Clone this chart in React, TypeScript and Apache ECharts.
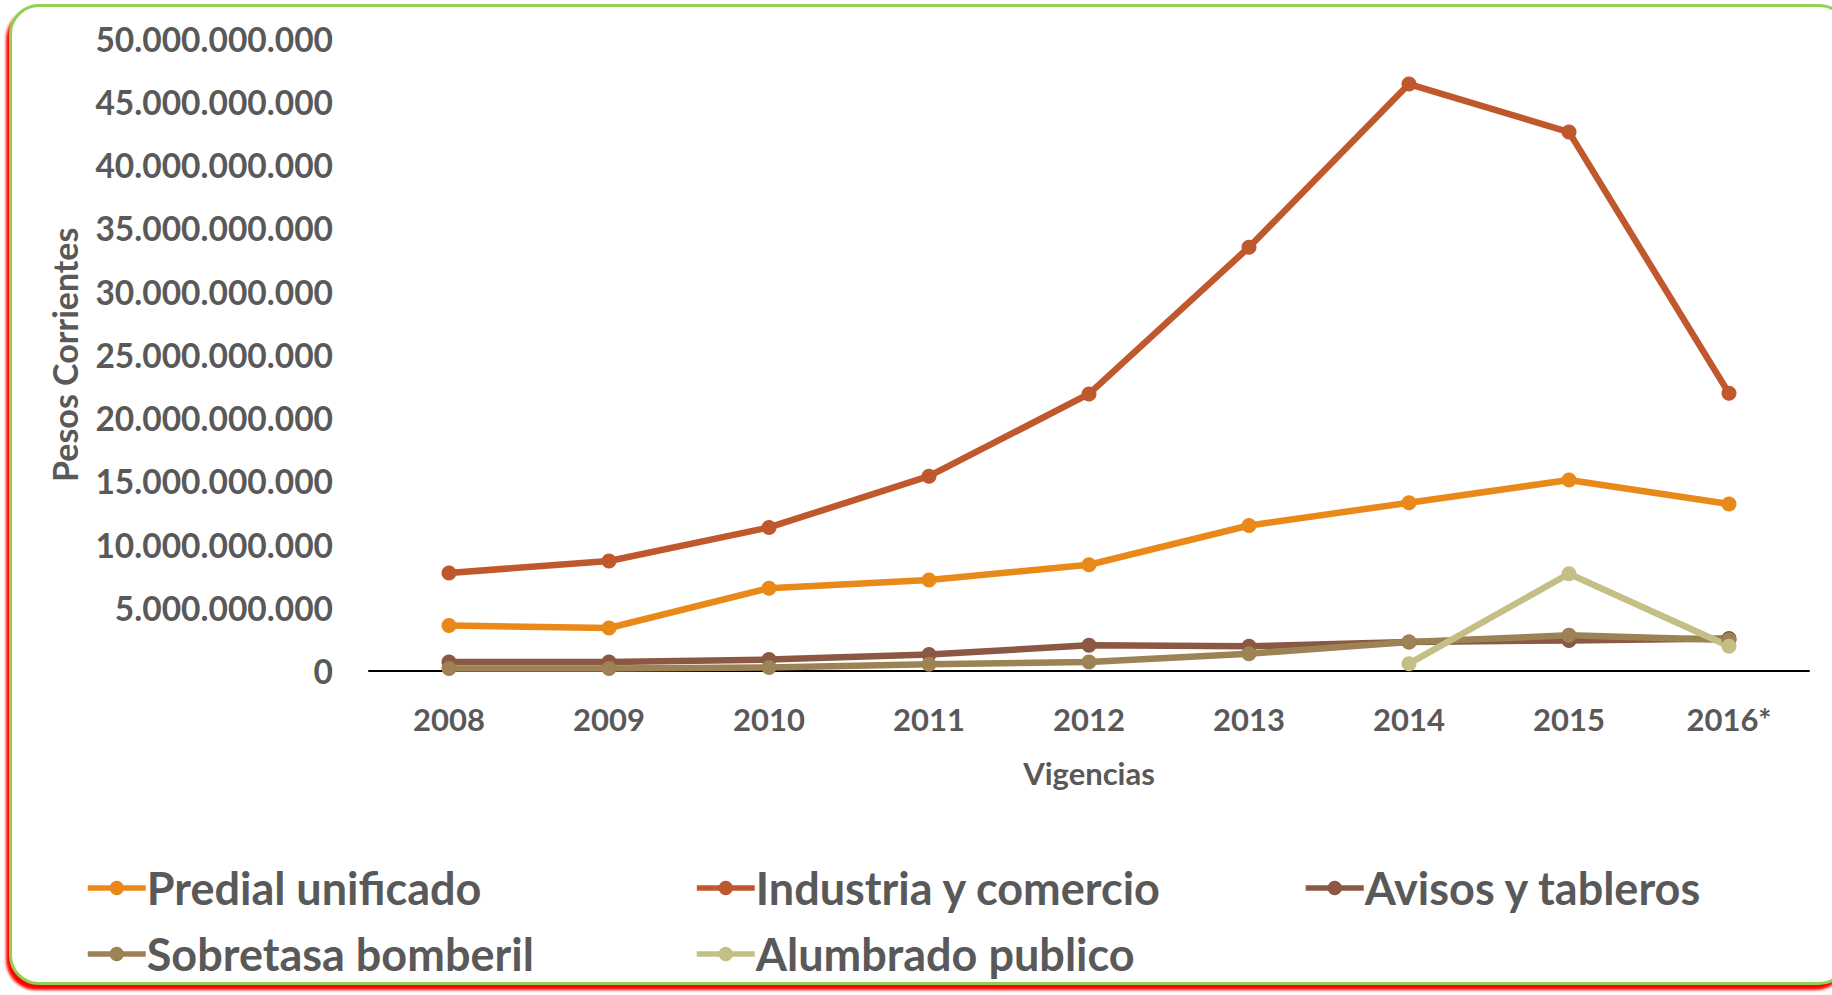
import React, { useEffect, useRef } from "react";
import * as echarts from "echarts";

const categories = ["2008", "2009", "2010", "2011", "2012", "2013", "2014", "2015", "2016*"];
const predial = [3.6e9, 3.4e9, 6.55e9, 7.2e9, 8.4e9, 11.5e9, 13.3e9, 15.1e9, 13.2e9];
const industria = [7.75e9, 8.7e9, 11.35e9, 15.4e9, 21.9e9, 33.5e9, 46.4e9, 42.6e9, 21.95e9];
const avisos = [0.71e9, 0.71e9, 0.9e9, 1.3e9, 2.03e9, 1.95e9, 2.29e9, 2.42e9, 2.56e9];
const sobretasa = [0.19e9, 0.19e9, 0.27e9, 0.53e9, 0.71e9, 1.37e9, 2.29e9, 2.82e9, 2.45e9];
const alumbrado = [null, null, null, null, null, null, 0.58e9, 7.69e9, 1.95e9];
const seriesNames = ["Predial unificado", "Industria y comercio", "Avisos y tableros", "Sobretasa bomberil", "Alumbrado publico"];
const colors = ["#E8891A", "#C0582D", "#8A5843", "#9C8255", "#C4BF84"];

const FONT = "Lato";
const TEXT = "#595959";

const legendLeft = [85, 694, 1303, 85, 694];
const legendCenterY = [889, 889, 889, 955, 955];

function fmt(v: number) {
  return String(Math.round(v)).replace(/\B(?=(\d{3})+(?!\d))/g, ".");
}

export default function App() {
  const ref = useRef<HTMLDivElement>(null);
  useEffect(() => {
    document.body.style.overflow = "hidden";
    const chart = echarts.init(ref.current!, undefined, { renderer: "svg" });
    const data = [predial, industria, avisos, sobretasa, alumbrado];
    chart.setOption({
      animation: false,
      grid: { left: 369, right: 23, top: 38.5, bottom: 324 },
      legend: seriesNames.map((n, i) => ({
        left: legendLeft[i],
        top: legendCenterY[i] - 27,
        itemGap: 0,
        itemWidth: 58,
        itemHeight: 18,
        padding: 0,
        lineStyle: { width: 5.5 },
        textStyle: { fontFamily: FONT, fontWeight: "bold", fontSize: 45, lineHeight: 52, color: TEXT, padding: [0, 0, 0, -4] },
        data: [n],
      })),
      xAxis: {
        type: "category",
        data: categories,
        boundaryGap: true,
        axisLine: { lineStyle: { color: "#000", width: 2 } },
        axisTick: { show: false },
        axisLabel: { fontFamily: FONT, fontWeight: "bold", fontSize: 31, color: TEXT, margin: 32 },
        name: "Vigencias",
        nameLocation: "middle",
        nameGap: 86,
        nameTextStyle: { fontFamily: FONT, fontWeight: "bold", fontSize: 31, color: TEXT },
      },
      yAxis: {
        type: "value",
        min: 0,
        max: 50e9,
        interval: 5e9,
        splitLine: { show: false },
        axisLine: { show: false },
        axisTick: { show: false },
        axisLabel: { fontFamily: FONT, fontWeight: "bold", fontSize: 33.5, color: TEXT, margin: 36, formatter: (v: number) => fmt(v) },
        name: "Pesos Corrientes",
        nameLocation: "middle",
        nameGap: 288,
        nameRotate: 90,
        nameTextStyle: { fontFamily: FONT, fontWeight: "bold", fontSize: 34, color: TEXT },
      },
      series: data.map((d, i) => ({
        name: seriesNames[i],
        type: "line",
        data: d,
        color: colors[i],
        symbol: "circle",
        symbolSize: 15,
        showSymbol: true,
        connectNulls: false,
        lineStyle: { width: 6.5, color: colors[i] },
        itemStyle: { color: colors[i] },
      })),
    });
    return () => chart.dispose();
  }, []);
  return (
    <div style={{ position: "fixed", left: 0, top: 0, width: 1832, height: 995, overflow: "hidden", background: "#fff" }}>
      <div
        style={{
          position: "absolute",
          left: 9,
          top: 4,
          width: 1840,
          height: 981,
          border: "3px solid #92D050",
          borderRadius: 30,
          boxShadow: "-3px 5px 3px #ff0000",
          background: "#fff",
          boxSizing: "border-box",
        }}
      />
      <div ref={ref} style={{ position: "absolute", left: 0, top: 0, width: 1832, height: 995 }} />
    </div>
  );
}
